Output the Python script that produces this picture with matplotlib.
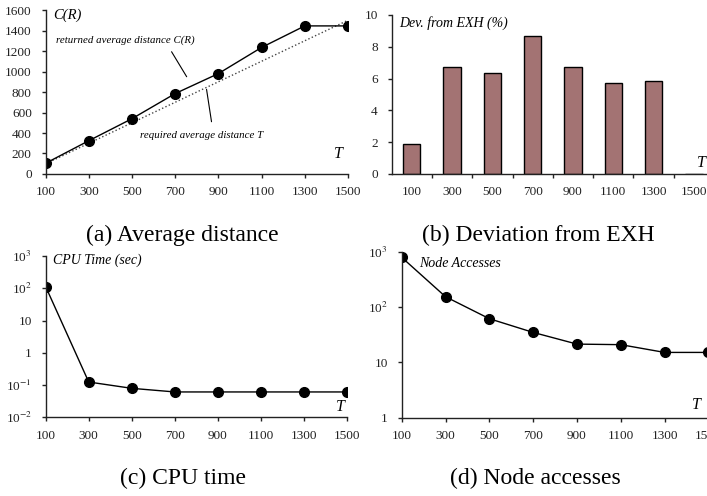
import numpy as np
from matplotlib import pyplot as plt

plt.rcParams['font.family'] = ['Liberation Serif', 'DejaVu Serif']
plt.rcParams['mathtext.fontset'] = 'stix'

# data
T = [100, 300, 500, 700, 900, 1100, 1300, 1500]
avg_dist = [105, 325, 540, 785, 980, 1235, 1445, 1445]
required = T
dev_exh = [1.9, 6.75, 6.35, 8.65, 6.7, 5.75, 5.87, 0]
cpu_time = [112, 0.124, 0.079, 0.061, 0.061, 0.061, 0.061, 0.061]
node_acc = [800, 155, 62, 35, 21.5, 21, 15.2, 15.2]

tick_fs = 9.5
cap_fs = 17
lab_fs = 10
bar_color = '#a37373'


def style_axes(ax):
    for s in ['top', 'right']:
        ax.spines[s].set_visible(False)
    for s in ['left', 'bottom']:
        ax.spines[s].set_linewidth(1.0)
        ax.spines[s].set_color('#222222')
    ax.tick_params(labelsize=tick_fs, length=3, width=1, direction='out', colors='#222222')
    ax.tick_params(axis='x', pad=6)
    ax.tick_params(axis='y', pad=7)


fig = plt.figure(figsize=(7.07, 4.96), dpi=100)

# (a) average distance
ax = fig.add_axes([0.0646, 0.6492, 0.4276, 0.3306])
ax.plot(T, required, ':', color='#444444', lw=1)
ax.plot(T, avg_dist, '-o', color='black', lw=1, ms=7)
ax.set_xlim(100, 1500)
ax.set_ylim(0, 1600)
ax.set_xticks(T)
ax.set_yticks(range(0, 1601, 200))
style_axes(ax)
ax.text(0.025, 0.97, 'C(R)', transform=ax.transAxes, style='italic', fontsize=10.5, va='center')
ax.text(0.955, 0.12, 'T', transform=ax.transAxes, style='italic', fontsize=11.5, va='center')
ax.text(467, 1307, 'returned average distance C(R)', fontsize=7.8, style='italic',
        ha='center', va='center')
ax.annotate('', xy=(753, 949), xytext=(683, 1193),
            arrowprops=dict(arrowstyle='-', color='black', lw=0.8, shrinkA=0, shrinkB=0))
ax.text(822, 380, 'required average distance T', fontsize=7.8, style='italic',
        ha='center', va='center')
ax.annotate('', xy=(845, 826), xytext=(868, 510),
            arrowprops=dict(arrowstyle='-', color='black', lw=0.8, shrinkA=0, shrinkB=0))

# (b) deviation from EXH
ax = fig.add_axes([0.554, 0.6492, 0.4559, 0.3206])
pos = np.arange(len(T))
ax.bar(pos, dev_exh, width=0.43, color=bar_color, edgecolor='black', lw=1)
ax.set_xlim(-0.5, len(T) - 0.5)
ax.set_ylim(0, 10)
ax.set_yticks(range(0, 11, 2))
ax.set_xticks(pos)
ax.set_xticklabels([str(t) for t in T])
ax.set_xticks(pos[:-1] + 0.5, minor=True)
style_axes(ax)
ax.tick_params(axis='x', which='major', length=0, pad=9)
ax.tick_params(axis='x', which='minor', length=3, width=1, colors='#222222')
ax.text(0.023, 0.95, 'Dev. from EXH (%)', transform=ax.transAxes, style='italic', fontsize=lab_fs, va='center')
ax.text(0.947, 0.07, 'T', transform=ax.transAxes, style='italic', fontsize=11.5, va='center')

# (c) CPU time
ax = fig.add_axes([0.0646, 0.1587, 0.4262, 0.3252])
ax.plot(T, cpu_time, '-o', color='black', lw=1, ms=7)
ax.set_yscale('log')
ax.set_xlim(100, 1500)
ax.set_ylim(1e-2, 1e3)
ax.set_xticks(T)
ax.set_yticks([1e-2, 1e-1, 1, 10, 1e2, 1e3])
ax.set_yticklabels(['10$^{-2}$', '10$^{-1}$', '1', '10', '10$^{2}$', '10$^{3}$'])
ax.minorticks_off()
style_axes(ax)
ax.text(0.024, 0.975, 'CPU Time (sec)', transform=ax.transAxes, style='italic', fontsize=lab_fs, va='center')
ax.text(0.962, 0.066, 'T', transform=ax.transAxes, style='italic', fontsize=11.5, va='center')

# (d) node accesses
ax = fig.add_axes([0.5682, 0.1579, 0.4338, 0.334])
ax.plot(T, node_acc, '-o', color='black', lw=1, ms=7)
ax.set_yscale('log')
ax.set_xlim(100, 1500)
ax.set_ylim(1, 1e3)
ax.set_xticks(T)
ax.set_yticks([1, 10, 1e2, 1e3])
ax.set_yticklabels(['1', '10', '10$^{2}$', '10$^{3}$'])
ax.minorticks_off()
style_axes(ax)
ax.text(0.056, 0.93, 'Node Accesses', transform=ax.transAxes, style='italic', fontsize=lab_fs, va='center')
ax.text(0.945, 0.077, 'T', transform=ax.transAxes, style='italic', fontsize=11.5, va='center')

# captions
fig.text(0.258, 1 - 235 / 496, '(a) Average distance', fontsize=cap_fs, ha='center', va='center')
fig.text(0.762, 1 - 235 / 496, '(b) Deviation from EXH', fontsize=cap_fs, ha='center', va='center')
fig.text(0.259, 1 - 478 / 496, '(c) CPU time', fontsize=cap_fs, ha='center', va='center')
fig.text(0.757, 1 - 478 / 496, '(d) Node accesses', fontsize=cap_fs, ha='center', va='center')

fig.savefig('out.png', dpi=100)
